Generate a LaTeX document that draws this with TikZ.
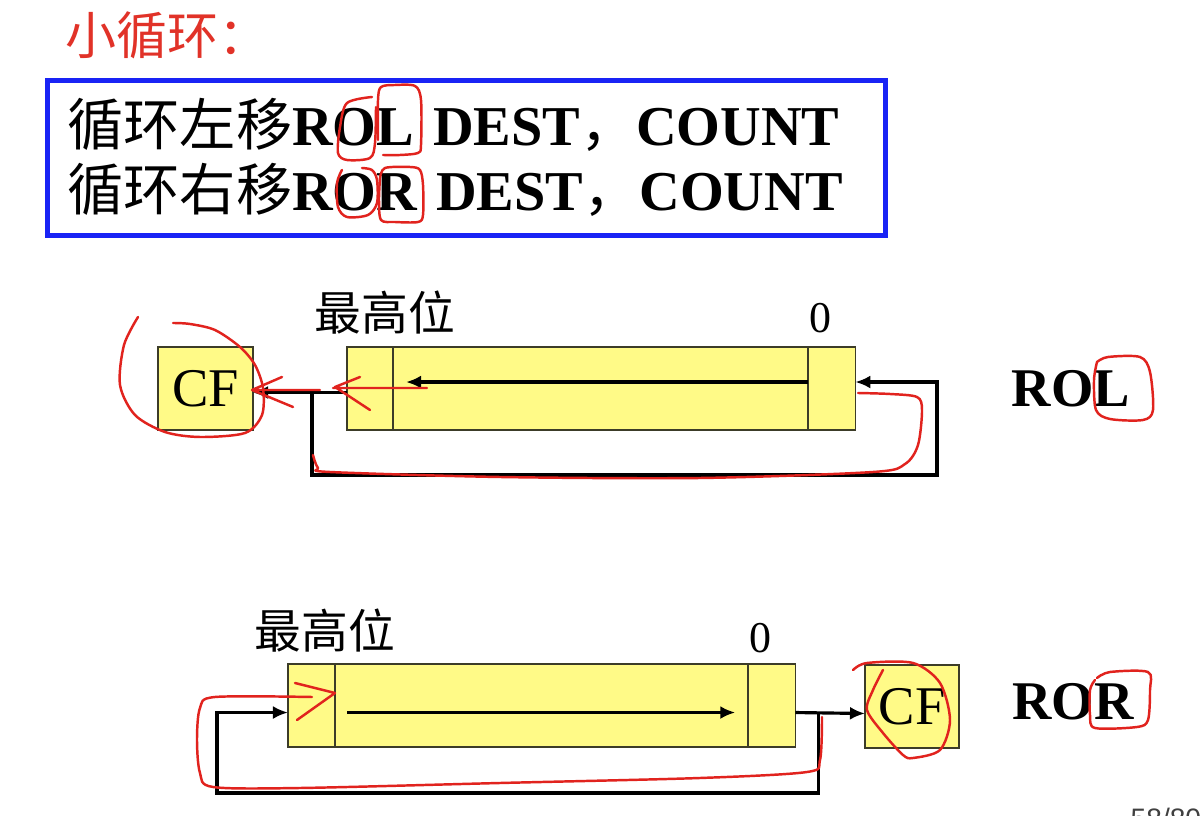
\documentclass[tikz,border=0pt]{standalone}
\usepackage{fontspec}
\setmainfont{Liberation Serif}
\newfontfamily\hei{Noto Sans CJK SC}
\newfontfamily\pagefont{Liberation Sans}
\usepackage{xcolor}
\usepackage{tikz}
\usetikzlibrary{arrows.meta,positioning}
\definecolor{regyellow}{RGB}{255,250,135}
\definecolor{cellline}{RGB}{60,60,40}
\definecolor{cmdblue}{RGB}{25,35,245}
\definecolor{titlered}{RGB}{225,50,40}
\definecolor{penred}{RGB}{225,35,30}
\tikzset{
  cell/.style={draw=cellline, fill=regyellow, line width=0.45pt, minimum height=0.83cm,
               inner sep=0pt, outer sep=0pt},
  cfbox/.style={cell, minimum width=0.95cm, font=\fontsize{15.5}{18}\selectfont},
  toplbl/.style={font=\hei\fontsize{13.3}{16}\selectfont, inner sep=0pt},
  zerolbl/.style={font=\fontsize{12.5}{15}\selectfont, inner sep=0pt},
  oplbl/.style={font=\bfseries\fontsize{15.5}{18}\selectfont, inner sep=0pt},
  cmdbox/.style={draw=cmdblue, line width=1.3pt, align=left, text width=7.98cm,
                 inner xsep=0.2cm, inner ysep=0pt, minimum height=1.55cm,
                 font=\fontsize{16}{18.5}\selectfont},
  flow/.style={-{Latex[length=1.5mm,width=1.3mm]}, line width=0.9pt},
  pen/.style={draw=penred, line width=0.7pt, line cap=round, line join=round},
}

\begin{document}
\begin{tikzpicture}[x=0.01cm, y=-0.01cm]
  \useasboundingbox (0,0) rectangle (1200,816);
  \fill[white] (0,0) rectangle (1200,816);
  \clip (0,0) rectangle (1200,816);
  % title and instruction box
  \node[font=\hei\fontsize{14.5}{17}\selectfont, text=titlered, anchor=west, inner sep=0pt]
    (title) at (65,35) {小循环：};
  \node[cmdbox, anchor=north west] (cmd) at (45,78)
    {{\hei 循环左移}{\bfseries ROL DEST}{\hei ，}{\bfseries COUNT}\\
     {\hei 循环右移}{\bfseries ROR DEST}{\hei ，}{\bfseries COUNT}\par\vspace*{0.1cm}};
  % ROL
  \node[cfbox, anchor=north west] (cfA) at (158,347) {CF};
  \node[cell, minimum width=0.46cm, anchor=north west] (hiA) at (347,347) {};
  \node[cell, minimum width=4.15cm, right=0pt of hiA] (midA) {};
  \node[cell, minimum width=0.47cm, right=0pt of midA] (loA) {};
  \node[toplbl] (msbA) at (385,313) {最高位};
  \node[zerolbl] (zeroA) at (820,318) {0};
  \node[oplbl] (opA) at (1071,389) {ROL};
  \draw[flow] ([yshift=0.065cm]loA.west) -- ([xshift=0.13cm,yshift=0.065cm]midA.west);
  \draw[flow] ([yshift=-0.04cm]hiA.west) -- ([yshift=-0.04cm]cfA.east);
  \coordinate (jA) at ([xshift=-0.35cm,yshift=-0.04cm]hiA.west);
  \coordinate (rA) at (937,475);
  \draw[flow] (jA) |- (rA) |- ([yshift=0.065cm]loA.east);
  % ROR
  \node[cell, minimum width=0.47cm, anchor=north west] (hiB) at (288,664) {};
  \node[cell, minimum width=4.13cm, right=0pt of hiB] (midB) {};
  \node[cell, minimum width=0.47cm, right=0pt of midB] (loB) {};
  \node[cfbox, minimum width=0.94cm, anchor=north west] (cfB) at (865,665) {CF};
  \node[toplbl] (msbB) at (325,631) {最高位};
  \node[zerolbl] (zeroB) at (760,638) {0};
  \node[oplbl] (opB) at (1073,702) {ROR};
  \draw[flow] ([xshift=0.12cm,yshift=-0.07cm]midB.west) -- ([xshift=-0.13cm,yshift=-0.07cm]midB.east);
  \draw[flow] ([yshift=-0.07cm]loB.east) -- ([yshift=-0.07cm]cfB.west);
  \coordinate (jB) at ([xshift=0.23cm,yshift=-0.07cm]loB.east);
  \coordinate (lB) at (217,793);
  \draw[flow] (jB) |- (lB) |- ([yshift=-0.07cm]hiB.west);
  % page number, cut by the frame
  \node[font=\pagefont\fontsize{8}{9}\selectfont, text=black!75, anchor=north west, inner sep=0pt]
    (page) at (1130,807) {58/80};
  % red pen marks
  \draw[pen] plot[smooth] coordinates {(372,97) (347,103) (340,127) (338,153) (347,160) (370,158) (375,143) (376,107)};
  \draw[pen] plot[smooth] coordinates {(378,140) (378,100) (381,87) (395,85) (415,86) (421,100) (421,145) (418,153) (400,155) (383,155)};
  \draw[pen] plot[smooth] coordinates {(342,170) (337,183) (338,207) (347,217) (368,215) (377,203) (377,180) (372,170) (362,168)};
  \draw[pen] plot[smooth] coordinates {(380,178) (385,168) (410,167) (420,170) (423,185) (423,215) (418,222) (395,222) (381,220) (379,200) (380,178)};
  \draw[pen] plot[smooth] coordinates {(138,317) (124,345) (120,385) (135,415) (165,432) (200,437) (245,433) (262,415) (263,388) (255,365) (240,347) (215,330) (190,324) (173,323)};
  \draw[pen] (252,390) -- (320,390) (282,377) -- (252,390) -- (293,407);
  \draw[pen] (427,388) -- (333,388) (360,377) -- (335,387) -- (370,410);
  \draw[pen] plot[smooth] coordinates {(313,455) (318,468) (330,472) (500,477) (700,478) (873,472) (905,464) (918,445) (922,410) (917,397) (890,394) (858,393)};
  \draw[pen] plot[smooth] coordinates {(1097,362) (1108,357) (1140,357) (1150,372) (1153,410) (1143,420) (1110,419) (1096,410) (1094,380) (1097,362)};
  \draw[pen] (295,683) -- (335,693) -- (297,720);
  \draw[pen] plot[smooth] coordinates {(312,697) (215,697) (200,708) (197,740) (200,773) (213,787) (300,788) (500,783) (700,778) (807,772) (820,760) (822,717)};
  \draw[pen] plot[smooth] coordinates {(853,670) (867,663) (913,663) (940,683) (950,720) (940,750) (913,758) (903,755) (883,733) (867,710) (873,690) (883,670)};
  \draw[pen] plot[smooth] coordinates {(1097,678) (1110,672) (1148,672) (1150,690) (1148,720) (1137,727) (1095,728) (1090,715) (1090,690) (1095,680)};
\end{tikzpicture}
\end{document}
